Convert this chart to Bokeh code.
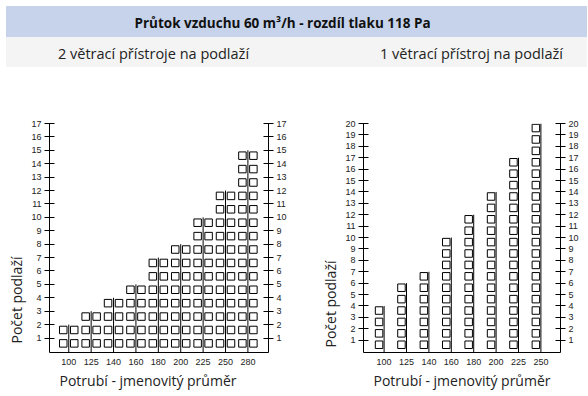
from bokeh.plotting import figure
from bokeh.layouts import column, row
from bokeh.models import LinearAxis, FixedTicker, Title, Range1d, ColumnDataSource
from bokeh.core.properties import value
from bokeh.embed import file_html
from bokeh.resources import INLINE

# ---------------- data ----------------
title_text = "Průtok vzduchu 60 m³/h - rozdíl tlaku 118 Pa"
subtitle_left = "2 větrací přístroje na podlaží"
subtitle_right = "1 větrací přístroj na podlaží"
y_label = "Počet podlaží"
x_label = "Potrubí - jmenovitý průměr"

cats_left = ["100", "125", "140", "160", "180", "200", "225", "250", "280"]
floors_left = [2, 3, 4, 5, 7, 8, 10, 12, 15]
devices_left = 2

cats_right = ["100", "125", "140", "160", "180", "200", "225", "250"]
floors_right = [4, 6, 7, 10, 12, 14, 17, 20]
devices_right = 1

yticks_left = [1, 2, 3, 4, 5, 6, 7, 8, 9, 10, 11, 12, 13, 14, 15, 16, 17]
yticks_right = [1, 2, 3, 4, 5, 6, 7, 8, 9, 10, 11, 12, 13, 14, 15, 16, 17, 18, 19, 20]

# ---------------- styles ----------------
FONT = "Open Sans"
TICK_FONT = "Liberation Sans"
BAND_BLUE = "#C6D3EB"
BAND_GRAY = "#F4F4F4"
TEXT = "#222222"

# ---------------- header ----------------
HW, HH = 588, 67
hdr = figure(width=HW, height=HH, x_range=Range1d(0, HW), y_range=Range1d(HH, 0),
             toolbar_location=None, output_backend="svg", min_border=0,
             x_axis_location=None, y_axis_location=None)
hdr.grid.visible = False
hdr.outline_line_color = None
hdr.quad(left=6, right=586, top=6, bottom=37, color=BAND_BLUE)
hdr.quad(left=6, right=586, top=37, bottom=67, color=BAND_GRAY)
hdr.text(x=[282], y=[22], text=[title_text], text_align="center", text_baseline="middle",
         text_font=value(FONT), text_font_style="bold", text_font_size="13.5px", text_color="#111111")
hdr.text(x=[153, 471], y=[53, 53], text=[subtitle_left, subtitle_right], text_align="center",
         text_baseline="middle", text_font=value(FONT), text_font_size="14.5px", text_color=TEXT)


def make_chart(cats, floors, devices, yticks, fig_w, bl, br, bt, xr, xlab_align, xlab_off, ylab_off):
    ymax = yticks[-1]
    y0 = -0.08
    p = figure(width=fig_w, height=325, x_range=xr, y_range=Range1d(y0, ymax),
               min_border_left=bl, min_border_right=br, min_border_top=bt, min_border_bottom=40,
               toolbar_location=None, output_backend="svg",
               x_axis_location=None, y_axis_location=None)
    p.grid.visible = False
    p.outline_line_color = None

    offsets = [-0.245, 0.245] if devices == 2 else [-0.225]
    xs, ys = [], []
    for i, n in enumerate(floors):
        for k in range(1, n + 1):
            for off in offsets:
                xs.append(i + off)
                ys.append(k - 0.4)
    p.scatter(x=xs, y=ys, marker="square", size=7.5, fill_color="white",
              line_color="black", line_width=1)
    idx = list(range(len(cats)))
    seg = ColumnDataSource(data=dict(x0=list(idx), y0=[y0] * len(idx), x1=list(idx), y1=list(floors)))
    p.segment(x0="x0", y0="y0", x1="x1", y1="y1", source=seg, line_color="black", line_width=1)

    for loc in ("left", "right"):
        ax = LinearAxis(ticker=FixedTicker(ticks=yticks))
        ax.axis_line_color = "black"
        ax.major_tick_line_color = "black"
        ax.major_tick_in = 5
        ax.major_tick_out = 5
        ax.minor_tick_line_color = None
        ax.major_label_standoff = 3
        ax.major_label_text_font = TICK_FONT
        ax.major_label_text_font_size = "9px"
        ax.major_label_text_color = TEXT
        p.add_layout(ax, loc)

    bx = LinearAxis(ticker=FixedTicker(ticks=idx),
                    major_label_overrides={i: c for i, c in enumerate(cats)})
    bx.axis_line_color = "black"
    bx.major_tick_in = 0
    bx.major_tick_out = 0
    bx.minor_tick_line_color = None
    bx.major_label_standoff = 6
    bx.major_label_text_font = TICK_FONT
    bx.major_label_text_font_size = "9px"
    bx.major_label_text_color = TEXT
    p.add_layout(bx, "below")

    p.add_layout(Title(text=x_label, align=xlab_align, offset=xlab_off, text_font=FONT,
                       text_font_size="14px", text_font_style="normal", text_color=TEXT,
                       standoff=3), "below")
    p.add_layout(Title(text=y_label, align="left", offset=ylab_off, text_font=FONT,
                       text_font_size="14px", text_font_style="normal", text_color=TEXT,
                       standoff=5), "left")
    return p


left = make_chart(cats_left, floors_left, devices_left, yticks_left, 300, 49, 32, 56,
                  Range1d(-0.86, 8.92), "left", 10, 9)
right = make_chart(cats_right, floors_right, devices_right, yticks_right, 288, 63, 28, 16,
                   Range1d(-0.92, 7.875), "center", 1.5, 5)

layout = column(hdr, row(left, right))
open("out.html", "w").write(file_html(layout, INLINE))
